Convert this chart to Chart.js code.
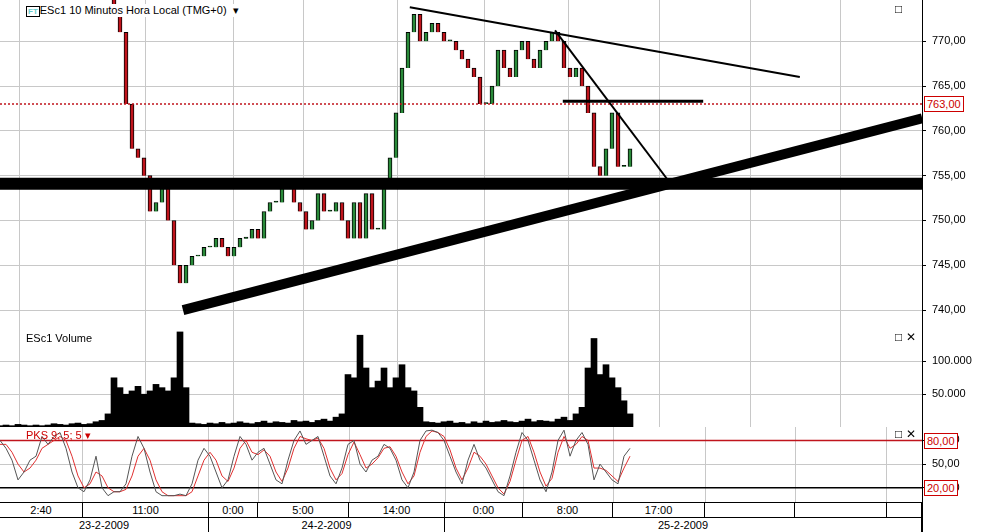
<!DOCTYPE html>
<html><head><meta charset="utf-8">
<script src="https://cdn.jsdelivr.net/npm/chart.js@4/dist/chart.umd.min.js"></script>
<style>
body{margin:0;background:#fff;font-family:Arial,"Liberation Sans",sans-serif;font-size:11px;}
.p{position:absolute;left:0;width:993px;}
.lbl{position:absolute;font-size:11px;color:#000;white-space:nowrap;}
.box{position:absolute;border:1px solid #c00;color:#c00;background:#fff;font-size:11px;padding:0 2px;line-height:14px}
</style></head><body>
<div class="p" style="top:0;height:328px"><canvas id="c1"></canvas></div>
<div class="p" style="top:328px;height:99px"><canvas id="c2"></canvas></div>
<div class="p" style="top:427px;height:75px"><canvas id="c3"></canvas></div>
<div class="lbl" style="left:26px;top:4px;background:#fff"><span style="border:1px solid #000;color:#6cc;font-size:8px;font-weight:bold;padding:0 1px">FT</span>ESc1 10 Minutos Hora Local (TMG+0) &nbsp;&#9662;</div>
<div class="lbl" style="left:26px;top:332px">ESc1 Volume</div>
<div class="lbl" style="left:26px;top:429px;color:#c00">PKS 9; 5; 5 &#9662;</div>
<div class="box" style="left:924px;top:96px">763,00</div>
<div class="box" style="left:924px;top:433px">80,00</div>
<div class="box" style="left:924px;top:480px">20,00</div>
<div class="lbl" style="left:895px;top:2px;font-size:12px">&#9633;</div>
<div class="lbl" style="left:895px;top:330px;font-size:12px">&#9633; &#10005;</div>
<div class="lbl" style="left:895px;top:427px;font-size:12px">&#9633; &#10005;</div>
<div id="axis" style="position:absolute;left:0;top:502px;width:922px;height:30px;border-top:1px solid #000;border-bottom:1px solid #000;border-right:1px solid #000"></div>
<script>
const slotMax = 922/6;
const priceStart = 16;
const closes = [776,775,775,774,771,763,758,757,755,751,752,754,750,745,743,745,746,746,747,747,748,747,746,747,748,748,749,748,751,752,752,754,754,752,751,749,750,753,751,751,752,750,748,752,748,753,749,749,754,757,762,767,771,773,770,771,772,771,770,770,769,768,767,766,763,763,765,769,767,766,769,770,768,767,769,770,771,770,767,766,767,765,762,756,755,758,762,756,756,758];
const volumes = [2,3,2,4,3,2,3,2,3,5, 4,3,5,6,4,5,8,10,20,75, 60,50,55,62,50,55,65,60,55,75, 145,60, 6,5,4,6,5,7,5,6, 8,6,5,7,9,6,8,7,6,10, 8,9,7,10,12,9,15,20, 80,75,140,90,60,70,90,60,75,95,60,55,30, 8,7,6,8,9,6,7,5,8, 6,9,7,8,10,8,7,9,12,8, 10,9,8,12,15,10,20,30, 90,135,80,95,75,60,40,20];
const stochK = [80,70,55,30,40,55,60,85,75,85, 90,70,40,20,15,30,60,20,10,15, 15,25,60,85,70,40,15,10,10,10, 12,10,25,55,70,60,40,20,30,60, 85,75,55,65,70,50,30,25,55,80, 92,75,80,85,60,35,25,45,75,80, 50,40,55,60,75,70,55,30,20,40, 80,92,93,90,80,60,40,25,55,75, 55,45,30,15,10,35,65,90,80,55, 30,15,40,80,93,60,80,90,75,30, 50,40,30,25,60,70];
const stochD = [75,75,65,50,40,45,55,70,75,80, 85,80,60,35,20,25,40,35,20,15, 15,18,35,60,70,55,30,15,10,10, 10,10,15,35,55,65,55,35,28,45, 70,80,65,62,68,60,40,28,45,70, 85,82,80,83,70,45,30,38,62,78, 62,45,50,58,70,72,60,40,25,35, 65,85,92,90,85,68,45,30,45,65, 60,50,35,20,12,28,55,80,85,65, 40,22,32,65,85,70,75,85,80,45, 45,42,35,28,45,60];
const priceTicks = [740,745,750,755,760,765,770];
const volTicks = [50000,100000];
const stochTicks = [20,50,80];
const gridSlots = [13.8,34.8,43,58.2,74.2,87.2,102.2,117.5,132.5,147.8];
const trendLines = [
  {pts:[[30.5,740],[153.7,761.4]], w:10},
  {pts:[[0,754.1],[153.7,754.1]], w:12},
  {pts:[[68.3,773.8],[133.3,766]], w:2},
  {pts:[[92.5,771.2],[112,753.9]], w:2},
  {pts:[[93.8,763.3],[117.2,763.3]], w:3}
];
const refPrice = 763;
const timeLabels = [["2:40",0,83],["11:00",83,209],["0:00",209,258],["5:00",258,349],["14:00",349,445],["0:00",445,523],["8:00",523,613],["17:00",613,705],["",705,795],["",795,887],["",887,922]];
const dateLabels = [["23-2-2009",0,209],["24-2-2009",209,445],["25-2-2009",445,922]];

Chart.defaults.animation=false;
Chart.defaults.font.family="Arial, 'Liberation Sans', sans-serif";
Chart.defaults.font.size=11;
Chart.defaults.color="#000";
const fmt=v=>v.toFixed(2).replace('.',',');
function xScale(){return {type:'linear',min:0,max:slotMax,offset:false,
  afterBuildTicks:s=>{s.ticks=gridSlots.map(v=>({value:v}));},
  afterFit:s=>{s.height=0;s.paddingLeft=0;s.paddingRight=0;},
  ticks:{display:false},grid:{color:'#c8c8c8',drawTicks:false},border:{color:'#000'}};}
function yScale(min,max,ticks,cb){return {position:'right',min,max,
  afterBuildTicks:s=>{s.ticks=ticks.map(v=>({value:v}));},
  afterFit:s=>{s.width=71;s.paddingTop=0;s.paddingBottom=0;},
  ticks:{callback:cb,padding:6,color:'#000'},grid:{color:'#c8c8c8',tickLength:4,tickColor:'#000'},border:{color:'#000'}};}
const baseOpts={responsive:true,maintainAspectRatio:false,layout:{padding:0},
  plugins:{legend:{display:false},tooltip:{enabled:false}}};

const bodies=[],bodyColors=[];
closes.forEach((c,i)=>{const o=i?closes[i-1]:c;bodies.push({x:priceStart+i,y:[o,c===o?c+0.15:c]});bodyColors.push(c<o?'#c0141c':'#2a8a3a');});
const ds=[{type:'bar',data:bodies,backgroundColor:bodyColors,borderColor:'#000',borderWidth:1,barThickness:4,order:3}];
trendLines.forEach(t=>ds.push({type:'line',data:t.pts.map(p=>({x:p[0],y:p[1]})),borderColor:'#000',borderWidth:t.w,pointRadius:0,order:1}));
ds.push({type:'line',data:[{x:0,y:refPrice},{x:slotMax,y:refPrice}],borderColor:'#c0141c',borderWidth:1.5,borderDash:[2,2],pointRadius:0,order:2});
new Chart(document.getElementById('c1'),{type:'bar',data:{datasets:ds},options:{...baseOpts,
  scales:{x:xScale(),y:yScale(738,774.6,priceTicks,v=>fmt(v))}}});

new Chart(document.getElementById('c2'),{type:'bar',data:{datasets:[{data:volumes.map((v,i)=>({x:i,y:v*1000})),backgroundColor:'#000',barThickness:6}]},
  options:{...baseOpts,scales:{x:xScale(),y:yScale(0,151000,volTicks,v=>v.toLocaleString('de-DE'))}}});

new Chart(document.getElementById('c3'),{type:'line',data:{datasets:[
  {data:stochK.map((v,i)=>({x:i,y:v})),borderColor:'#555',borderWidth:1,pointRadius:0},
  {data:stochD.map((v,i)=>({x:i,y:v})),borderColor:'#e03030',borderWidth:1,pointRadius:0},
  {data:[{x:0,y:80},{x:slotMax,y:80}],borderColor:'#c0141c',borderWidth:1.5,pointRadius:0},
  {data:[{x:0,y:20},{x:slotMax,y:20}],borderColor:'#000',borderWidth:1.5,pointRadius:0}]},
  options:{...baseOpts,scales:{x:xScale(),y:yScale(2,97,stochTicks,v=>fmt(v))}}});

const ax=document.getElementById('axis');
function row(items,top,h){items.forEach(([t,a,b])=>{const d=document.createElement('div');
  d.style.cssText=`position:absolute;left:${a}px;width:${b-a-1}px;top:${top}px;height:${h}px;border-right:1px solid #000;text-align:center;line-height:${h}px;font-size:11px`;
  d.textContent=t;ax.appendChild(d);});}
row(timeLabels,0,14);row(dateLabels,15,14);
const hl=document.createElement('div');hl.style.cssText='position:absolute;left:0;width:922px;top:14px;height:1px;background:#000';ax.appendChild(hl);
</script></body></html>
